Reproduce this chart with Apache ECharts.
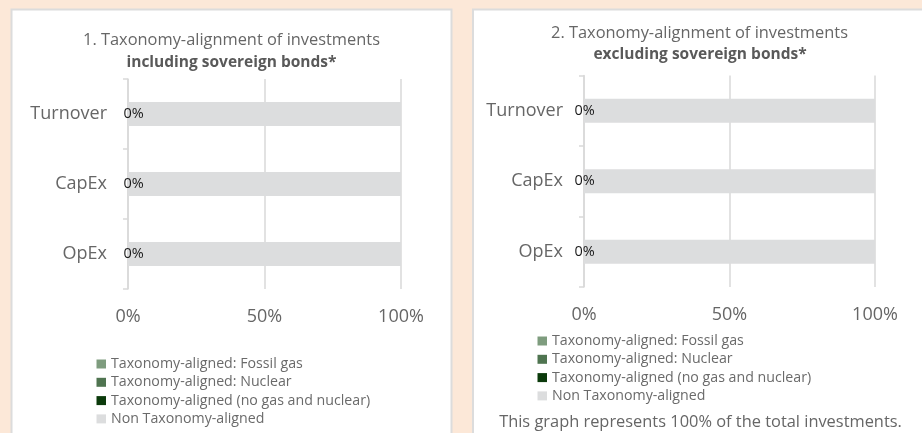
<!DOCTYPE html>
<html>
<head>
<meta charset="utf-8">
<script src="https://cdn.jsdelivr.net/npm/echarts@6/dist/echarts.min.js"></script>
<style>
  html, body { margin: 0; padding: 0; background: #FCE8D8; }
  #chart { width: 922px; height: 433px; }
</style>
</head>
<body>
<div id="chart"></div>
<script>
// Categories (top to bottom) and the four stacked shares, in percent
const categories = ['Turnover', 'CapEx', 'OpEx'];
const seriesNames = [
  'Taxonomy-aligned: Fossil gas',
  'Taxonomy-aligned: Nuclear',
  'Taxonomy-aligned (no gas and nuclear)',
  'Non Taxonomy-aligned'
];
const seriesColors = ['#7E9C7E', '#4F7450', '#0B3A0B', '#DCDDDE'];

// Chart 1: including sovereign bonds
const incFossilGas = [0, 0, 0];
const incNuclear = [0, 0, 0];
const incAligned = [0, 0, 0];
const incNonAligned = [100, 100, 100];

// Chart 2: excluding sovereign bonds
const excFossilGas = [0, 0, 0];
const excNuclear = [0, 0, 0];
const excAligned = [0, 0, 0];
const excNonAligned = [100, 100, 100];

const axisTicks = [0, 50, 100];

const FONT = '"Open Sans", "Noto Sans", sans-serif';
const GREY = '#666666';
const LINE = '#D9D9D9';

const chart = echarts.init(document.getElementById('chart'), null, { renderer: 'canvas' });

function xAxisFor(gridIndex) {
  return {
    type: 'value', gridIndex,
    min: axisTicks[0], max: axisTicks[axisTicks.length - 1],
    interval: axisTicks[1] - axisTicks[0],
    axisLine: { show: false }, axisTick: { show: false },
    splitLine: { show: true, lineStyle: { color: LINE, width: 1.5 } },
    axisLabel: { formatter: '{value}%', fontFamily: FONT, fontSize: 18, color: GREY, margin: 19 }
  };
}
function yAxisFor(gridIndex) {
  return {
    type: 'category', gridIndex, data: categories, inverse: true,
    axisLine: { show: true, lineStyle: { color: LINE, width: 1.5 } },
    axisTick: { show: true, length: 5, lineStyle: { color: LINE, width: 1.5 } },
    axisLabel: { fontFamily: FONT, fontSize: 18, color: GREY, margin: 21 }
  };
}
function barSeries(gridIndex, values, labelShift) {
  return values.map((vals, i) => {
    const s = {
      name: seriesNames[i], type: 'bar', stack: 'share' + gridIndex,
      xAxisIndex: gridIndex, yAxisIndex: gridIndex,
      barWidth: 24, data: vals,
      itemStyle: { color: seriesColors[i] },
      emphasis: { disabled: true }
    };
    if (i === 2) {
      s.label = {
        show: true, position: [labelShift, '50%'], align: 'left', verticalAlign: 'middle',
        formatter: (p) => p.value + '%',
        fontFamily: FONT, fontSize: 14.5, color: '#1A1A1A'
      };
    }
    return s;
  });
}
function legendFor(left, top) {
  return {
    data: seriesNames, orient: 'vertical', left, top, padding: 0,
    icon: 'rect', itemWidth: 9.5, itemHeight: 9, itemGap: 4.3,
    textStyle: { fontFamily: FONT, fontSize: 14.2, color: '#6A6A6A' },
    selectedMode: false
  };
}

chart.setOption({
  animation: false,
  graphic: [
    { type: 'rect', z: -10, shape: { x: 11.5, y: 9.5, width: 440, height: 440 },
      style: { fill: '#FFFFFF', stroke: '#DCDCDC', lineWidth: 2 } },
    { type: 'rect', z: -10, shape: { x: 473, y: 9.5, width: 460, height: 440 },
      style: { fill: '#FFFFFF', stroke: '#DCDCDC', lineWidth: 2 } },
    { type: 'text', x: 231.5, y: 40.5,
      style: { text: '1. Taxonomy-alignment of investments', align: 'center', verticalAlign: 'middle',
        font: '16.4px ' + FONT, fill: GREY } },
    { type: 'text', x: 231.5, y: 62.5,
      style: { text: 'including sovereign bonds*', align: 'center', verticalAlign: 'middle',
        font: 'bold 15.5px ' + FONT, fill: '#595959' } },
    { type: 'text', x: 699.5, y: 33,
      style: { text: '2. Taxonomy-alignment of investments', align: 'center', verticalAlign: 'middle',
        font: '16.4px ' + FONT, fill: GREY } },
    { type: 'text', x: 700, y: 55,
      style: { text: 'excluding sovereign bonds*', align: 'center', verticalAlign: 'middle',
        font: 'bold 15.5px ' + FONT, fill: '#595959' } },
    { type: 'text', x: 700.5, y: 422,
      style: { text: 'This graph represents 100% of the total investments.', align: 'center', verticalAlign: 'middle',
        font: '16.4px ' + FONT, fill: GREY } }
  ],
  grid: [
    { left: 128, width: 273, top: 79, height: 210 },
    { left: 584, width: 291, top: 75.5, height: 211.5 }
  ],
  xAxis: [xAxisFor(0), xAxisFor(1)],
  yAxis: [yAxisFor(0), yAxisFor(1)],
  legend: [legendFor(96.5, 357), legendFor(537.5, 334)],
  series: [
    ...barSeries(0, [incFossilGas, incNuclear, incAligned, incNonAligned], -4.5),
    ...barSeries(1, [excFossilGas, excNuclear, excAligned, excNonAligned], -9.5)
  ]
});
</script>
</body>
</html>
